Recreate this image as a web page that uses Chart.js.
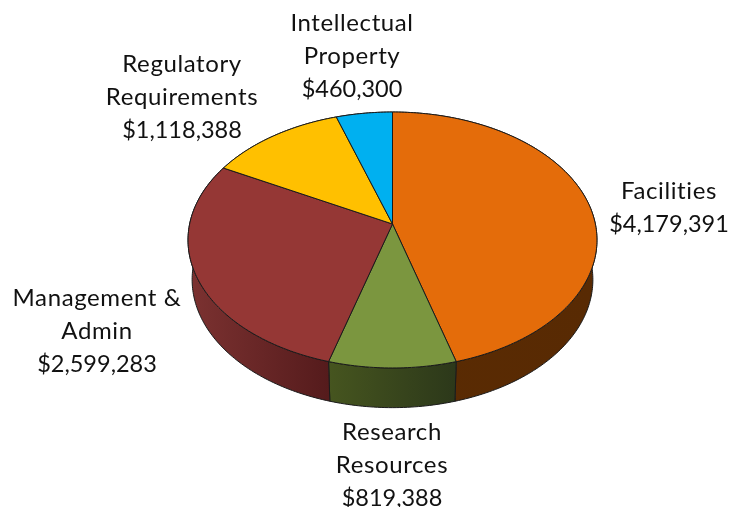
<!DOCTYPE html>
<html lang="en">
<head>
<meta charset="UTF-8">
<title>Cost breakdown</title>
<script src="https://cdn.jsdelivr.net/npm/chart.js"></script>
<style>
  html, body { margin: 0; padding: 0; background: #ffffff; }
  #wrap { width: 731px; height: 507px; }
</style>
</head>
<body>
<div id="wrap"><canvas id="grafico" width="731" height="507"></canvas></div>
<script>
const categories = ["Facilities", "Research Resources", "Management & Admin", "Regulatory Requirements", "Intellectual Property"];
const amounts = [4179391, 819388, 2599283, 1118388, 460300];
const labelLines = [["Facilities"], ["Research", "Resources"], ["Management &", "Admin"], ["Regulatory", "Requirements"], ["Intellectual", "Property"]];

const topColors = ["#E46C0A", "#7B963F", "#953735", "#FFC000", "#00B0F0"];
const wallLeft = ["#5A2B03", "#46551F", "#7C3231", "#997300", "#006A90"];
const wallRight = ["#582A03", "#2C381A", "#551B1C", "#997300", "#006A90"];

// text centre x and first baseline y of each label
const labelX = [669, 392, 97, 182, 352];
const labelY = [199, 440, 306, 72, 31];
const lineHeight = 33;

// perspective of the disc, relative to the pie radius
const squashX = 0.992, squashY = 0.616, tilt = 0.125;
const depth = 0.194, baseShrink = 0.98;

function project(arc, phi, lower) {
  const r = arc.outerRadius;
  const X = Math.sin(phi), Y = Math.cos(phi);
  const w = 1 + tilt * Y;
  let x = r * squashX * X / w;
  let y = -r * squashY * Y / w;
  if (lower) {
    x *= baseShrink;
    y += r * depth;
  }
  return [arc.x + x, arc.y + y];
}

function rimPoints(arc, lower) {
  const a0 = arc.startAngle + Math.PI / 2, a1 = arc.endAngle + Math.PI / 2;
  const n = Math.max(4, Math.ceil((a1 - a0) * 60));
  const pts = [];
  for (let i = 0; i <= n; i++) pts.push(project(arc, a0 + (a1 - a0) * i / n, lower));
  return pts;
}

function tracePath(ctx, pts) {
  ctx.beginPath();
  pts.forEach((p, i) => i ? ctx.lineTo(p[0], p[1]) : ctx.moveTo(p[0], p[1]));
  ctx.closePath();
}

const disc3d = {
  id: "disc3d",
  beforeDatasetDraw(chart, args) {
    const ctx = chart.ctx;
    const arcs = chart.getDatasetMeta(args.index).data;
    ctx.save();
    ctx.lineJoin = "round";
    ctx.lineWidth = 1;
    ctx.strokeStyle = "#1a1a1a";

    // side walls first, the top face hides whatever is behind it
    arcs.forEach((arc, i) => {
      const upper = rimPoints(arc, false), lower = rimPoints(arc, true);
      const xs = upper.map(p => p[0]);
      const grad = ctx.createLinearGradient(Math.min(...xs), 0, Math.max(...xs), 0);
      grad.addColorStop(0, wallLeft[i]);
      grad.addColorStop(1, wallRight[i]);
      tracePath(ctx, upper.concat(lower.reverse()));
      ctx.fillStyle = grad;
      ctx.fill();
      ctx.stroke();
    });

    arcs.forEach(arc => {
      tracePath(ctx, [[arc.x, arc.y]].concat(rimPoints(arc, false)));
      ctx.fillStyle = arc.options.backgroundColor;
      ctx.fill();
      ctx.stroke();
    });
    ctx.restore();
    return false;
  },
  afterDraw(chart) {
    const ctx = chart.ctx;
    ctx.save();
    ctx.fillStyle = "#111111";
    ctx.textAlign = "center";
    ctx.textBaseline = "alphabetic";
    categories.forEach((c, i) => {
      // words run wider than the digits in the original font
      ctx.font = "24px Lato";
      ctx.letterSpacing = "0.6px";
      labelLines[i].forEach((t, j) => ctx.fillText(t, labelX[i], labelY[i] + j * lineHeight));
      ctx.font = "23.5px Lato";
      ctx.letterSpacing = "0px";
      ctx.fillText("$" + amounts[i].toLocaleString("en-US"), labelX[i], labelY[i] + labelLines[i].length * lineHeight);
    });
    ctx.restore();
  }
};

new Chart(document.getElementById("grafico"), {
  type: "pie",
  data: {
    labels: categories,
    datasets: [{ data: amounts, backgroundColor: topColors, borderWidth: 0 }]
  },
  options: {
    responsive: false,
    animation: false,
    layout: { padding: { left: 188, right: 134, top: 19.5, bottom: 78.5 } },
    plugins: { legend: { display: false }, tooltip: { enabled: false } }
  },
  plugins: [disc3d]
});
</script>
</body>
</html>
